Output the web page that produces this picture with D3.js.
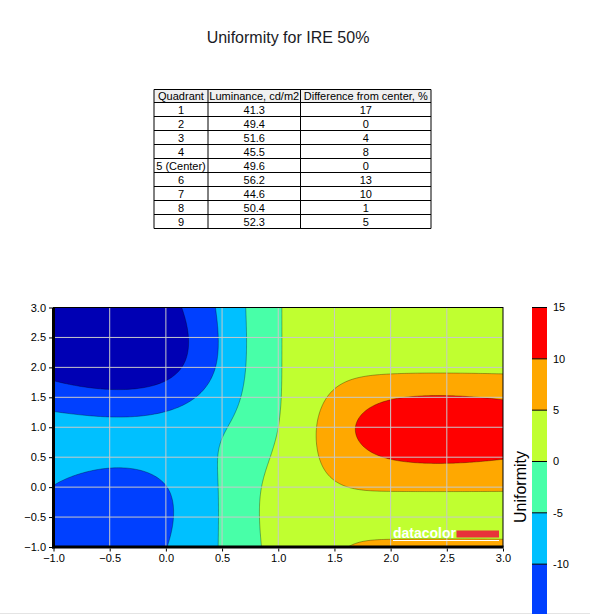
<!DOCTYPE html>
<html lang="en">
<head>
<meta charset="UTF-8">
<script src="https://d3js.org/d3.v7.min.js"></script>
<style>
  body { margin: 0; background: #fff; }
  svg text { font-family: Arial, "Liberation Sans", sans-serif; }
</style>
</head>
<body>
<svg id="chart" width="590" height="614"></svg>
<script>
// table data
const quadrants = ["1", "2", "3", "4", "5 (Center)", "6", "7", "8", "9"];
const luminance = [41.3, 49.4, 51.6, 45.5, 49.6, 56.2, 44.6, 50.4, 52.3];
const difference = [17, 0, 4, 8, 0, 13, 10, 1, 5];
const headers = ["Quadrant", "Luminance, cd/m2", "Difference from center, %"];

// where each quadrant sits on the contour plot
const quadX = [0, 1, 2, 0, 1, 2, 0, 1, 2];
const quadY = [2, 2, 2, 1, 1, 1, 0, 0, 0];

const levels = [-15, -10, -5, 0, 5, 10];
const bandColors = ["#0000b4", "#0040ff", "#00c0ff", "#48ffa8", "#c0ff30", "#ffa800", "#ff0000"];
const barTicks = [15, 10, 5, 0, -5, -10];
const axisTicks = [-1, -0.5, 0, 0.5, 1, 1.5, 2, 2.5, 3];

const svg = d3.select("#chart");
svg.append("rect").attr("width", 590).attr("height", 614).attr("fill", "#fff");
svg.append("line").attr("x1", 0).attr("x2", 590).attr("y1", 613.5).attr("y2", 613.5)
    .attr("stroke", "#e4e4e4");

// title
svg.append("text")
    .attr("x", 288).attr("y", 43)
    .attr("text-anchor", "middle")
    .attr("font-size", 16)
    .attr("fill", "#1a1a24")
    .text("Uniformity for IRE 50%");

// table
const colX = [154, 208, 300.5, 431];
const tableTop = 89.5, headH = 13, rowH = 14;
const table = svg.append("g");
table.append("rect")
    .attr("x", colX[0]).attr("y", tableTop)
    .attr("width", colX[3] - colX[0]).attr("height", headH)
    .attr("fill", "#f0f0f0");
const rows = quadrants.map((q, i) => [q, luminance[i].toFixed(1), String(difference[i])]);
headers.forEach((h, c) => {
    table.append("text")
        .attr("x", (colX[c] + colX[c + 1]) / 2).attr("y", tableTop + headH - 2.5)
        .attr("text-anchor", "middle").attr("font-size", 11)
        .text(h);
});
rows.forEach((r, i) => {
    const yTop = tableTop + headH + i * rowH;
    r.forEach((v, c) => {
        table.append("text")
            .attr("x", (colX[c] + colX[c + 1]) / 2).attr("y", yTop + rowH - 3)
            .attr("text-anchor", "middle").attr("font-size", 11)
            .text(v);
    });
});
const tableBottom = tableTop + headH + rows.length * rowH;
colX.forEach(cx => {
    table.append("line")
        .attr("x1", cx).attr("x2", cx).attr("y1", tableTop).attr("y2", tableBottom)
        .attr("stroke", "#000");
});
d3.range(rows.length + 2).forEach(i => {
    const ly = i == 0 ? tableTop : tableTop + headH + (i - 1) * rowH;
    table.append("line")
        .attr("x1", colX[0]).attr("x2", colX[3]).attr("y1", ly).attr("y2", ly)
        .attr("stroke", "#000");
});

// contour plot
const x = d3.scaleLinear().domain([-1, 3]).range([53.5, 503]);
const y = d3.scaleLinear().domain([-1, 3]).range([547, 307.5]);

// signed deviation from the center quadrant, %
const center = luminance[4];
const uniformity = luminance.map(l => (l - center) / center * 100);

// natural cubic spline through equally spaced (step 1) knots starting at k0
function naturalSpline(k0, v) {
    const n = v.length, M = new Array(n).fill(0);
    const c = new Array(n).fill(0), d = new Array(n).fill(0);
    for (let i = 1; i < n - 1; i++) {
        const rhs = 6 * (v[i - 1] - 2 * v[i] + v[i + 1]);
        const den = 4 - (i > 1 ? c[i - 1] : 0);
        c[i] = 1 / den;
        d[i] = (rhs - (i > 1 ? d[i - 1] : 0)) / den;
    }
    for (let i = n - 2; i >= 1; i--) M[i] = d[i] - c[i] * M[i + 1];
    return t => {
        let k = Math.floor(t - k0);
        k = Math.max(0, Math.min(n - 2, k));
        const s = t - k0 - k, u = 1 - s;
        return u * v[k] + s * v[k + 1] + ((u * u * u - u) * M[k] + (s * s * s - s) * M[k + 1]) / 6;
    };
}

// knots run over the whole axis (-1..3); edge knots take the nearest quadrant
const knots = [-1, 0, 1, 2, 3];
const clamp = k => Math.max(0, Math.min(2, k));
function quadValue(kx, ky) {
    const i = d3.range(9).find(q => quadX[q] == clamp(kx) && quadY[q] == clamp(ky));
    return uniformity[i];
}

const step = 0.02, gx0 = -1.04, gyTop = 3.04, nx = 205, ny = 205;
const gxs = d3.range(nx).map(i => gx0 + i * step);
const gys = d3.range(ny).map(j => gyTop - j * step);
// spline along x for each knot row, then along y for each sample column
const rowCurves = knots.map(ky => naturalSpline(-1, knots.map(kx => quadValue(kx, ky))));
const grid = new Array(nx * ny);
gxs.forEach((gx, i) => {
    const col = naturalSpline(-1, rowCurves.map(f => f(gx)));
    gys.forEach((gy, j) => { grid[j * nx + i] = col(gy); });
});

const contours = d3.contours().size([nx, ny]).thresholds(levels)(grid);
const path = d3.geoPath(d3.geoTransform({
    point: function (cx, cy) {
        this.stream.point(x(gx0 + (cx - 0.5) * step), y(gyTop - (cy - 0.5) * step));
    }
}));

svg.append("clipPath").attr("id", "plotClip")
    .append("rect")
    .attr("x", x(-1)).attr("y", y(3))
    .attr("width", x(3) - x(-1)).attr("height", y(-1) - y(3));

const plot = svg.append("g").attr("clip-path", "url(#plotClip)");
plot.append("rect")
    .attr("x", x(-1)).attr("y", y(3))
    .attr("width", x(3) - x(-1)).attr("height", y(-1) - y(3))
    .attr("fill", bandColors[0]);
plot.selectAll("path.band")
    .data(contours)
    .enter().append("path")
    .attr("class", "band")
    .attr("d", path)
    .attr("fill", (d, i) => bandColors[i + 1])
    .attr("stroke", "rgba(0,0,0,0.4)")
    .attr("stroke-width", 0.8);

// grid lines
const inner = axisTicks.slice(1, -1);
plot.selectAll("line.gx").data(inner).enter().append("line")
    .attr("x1", d => x(d)).attr("x2", d => x(d))
    .attr("y1", y(3)).attr("y2", y(-1))
    .attr("stroke", "#c8c8c8");
plot.selectAll("line.gy").data(inner).enter().append("line")
    .attr("x1", x(-1)).attr("x2", x(3))
    .attr("y1", d => y(d)).attr("y2", d => y(d))
    .attr("stroke", "#c8c8c8");

// datacolor mark
const logo = svg.append("g");
logo.append("text")
    .attr("x", x(3) - 110).attr("y", y(-1) - 9.5)
    .attr("font-size", 14).attr("font-weight", "bold")
    .attr("fill", "#fff")
    .text("datacolor");
logo.append("rect")
    .attr("x", x(3) - 46.5).attr("y", y(-1) - 16.5)
    .attr("width", 42.5).attr("height", 7)
    .attr("fill", "#e8313a");
logo.append("line")
    .attr("x1", x(3) - 110).attr("x2", x(3) - 4)
    .attr("y1", y(-1) - 6.5).attr("y2", y(-1) - 6.5)
    .attr("stroke", "#fff");

// frame and axes
svg.append("rect")
    .attr("x", x(-1)).attr("y", y(3))
    .attr("width", x(3) - x(-1)).attr("height", y(-1) - y(3))
    .attr("fill", "none").attr("stroke", "#000");
svg.append("line")
    .attr("x1", x(-1)).attr("x2", x(-1)).attr("y1", y(3)).attr("y2", y(-1) + 1.5)
    .attr("stroke", "#000").attr("stroke-width", 3);
svg.append("line")
    .attr("x1", x(-1) - 1.5).attr("x2", x(3) + 0.5).attr("y1", y(-1)).attr("y2", y(-1))
    .attr("stroke", "#000").attr("stroke-width", 3);

const fmt = d3.format(".1f");
const xAxis = svg.append("g")
    .attr("transform", `translate(0,${y(-1) + 1.5})`)
    .call(d3.axisBottom(x).tickValues(axisTicks).tickFormat(fmt).tickSize(3).tickPadding(3));
const yAxis = svg.append("g")
    .attr("transform", `translate(${x(-1) - 1.5},0)`)
    .call(d3.axisLeft(y).tickValues(axisTicks).tickFormat(fmt).tickSize(3).tickPadding(3));
[xAxis, yAxis].forEach(a => {
    a.select(".domain").remove();
    a.selectAll("text").attr("font-size", 11).attr("fill", "#000")
        .attr("font-family", "Arial, 'Liberation Sans', sans-serif");
    a.selectAll("line").attr("stroke", "#000");
});

// color bar
const bar = d3.scaleLinear().domain([15, -13.2]).range([307.5, 597]);
const bands = [15].concat(levels.slice().reverse()).concat([-13.2]);
const barG = svg.append("g");
barG.selectAll("rect").data(d3.range(bands.length - 1)).enter().append("rect")
    .attr("x", 532).attr("width", 15)
    .attr("y", i => bar(bands[i]))
    .attr("height", i => bar(bands[i + 1]) - bar(bands[i]))
    .attr("fill", i => bandColors[bandColors.length - 1 - i]);
barG.selectAll("line").data(barTicks).enter().append("line")
    .attr("x1", 532).attr("x2", 547)
    .attr("y1", d => bar(d)).attr("y2", d => bar(d))
    .attr("stroke", "#000");
barG.selectAll("text").data(barTicks).enter().append("text")
    .attr("x", 553).attr("y", d => bar(d))
    .attr("dy", "0.35em").attr("font-size", 11)
    .text(d => d);
svg.append("text")
    .attr("transform", "translate(526,487) rotate(-90)")
    .attr("text-anchor", "middle")
    .attr("font-size", 16)
    .text("Uniformity");
</script>
</body>
</html>
